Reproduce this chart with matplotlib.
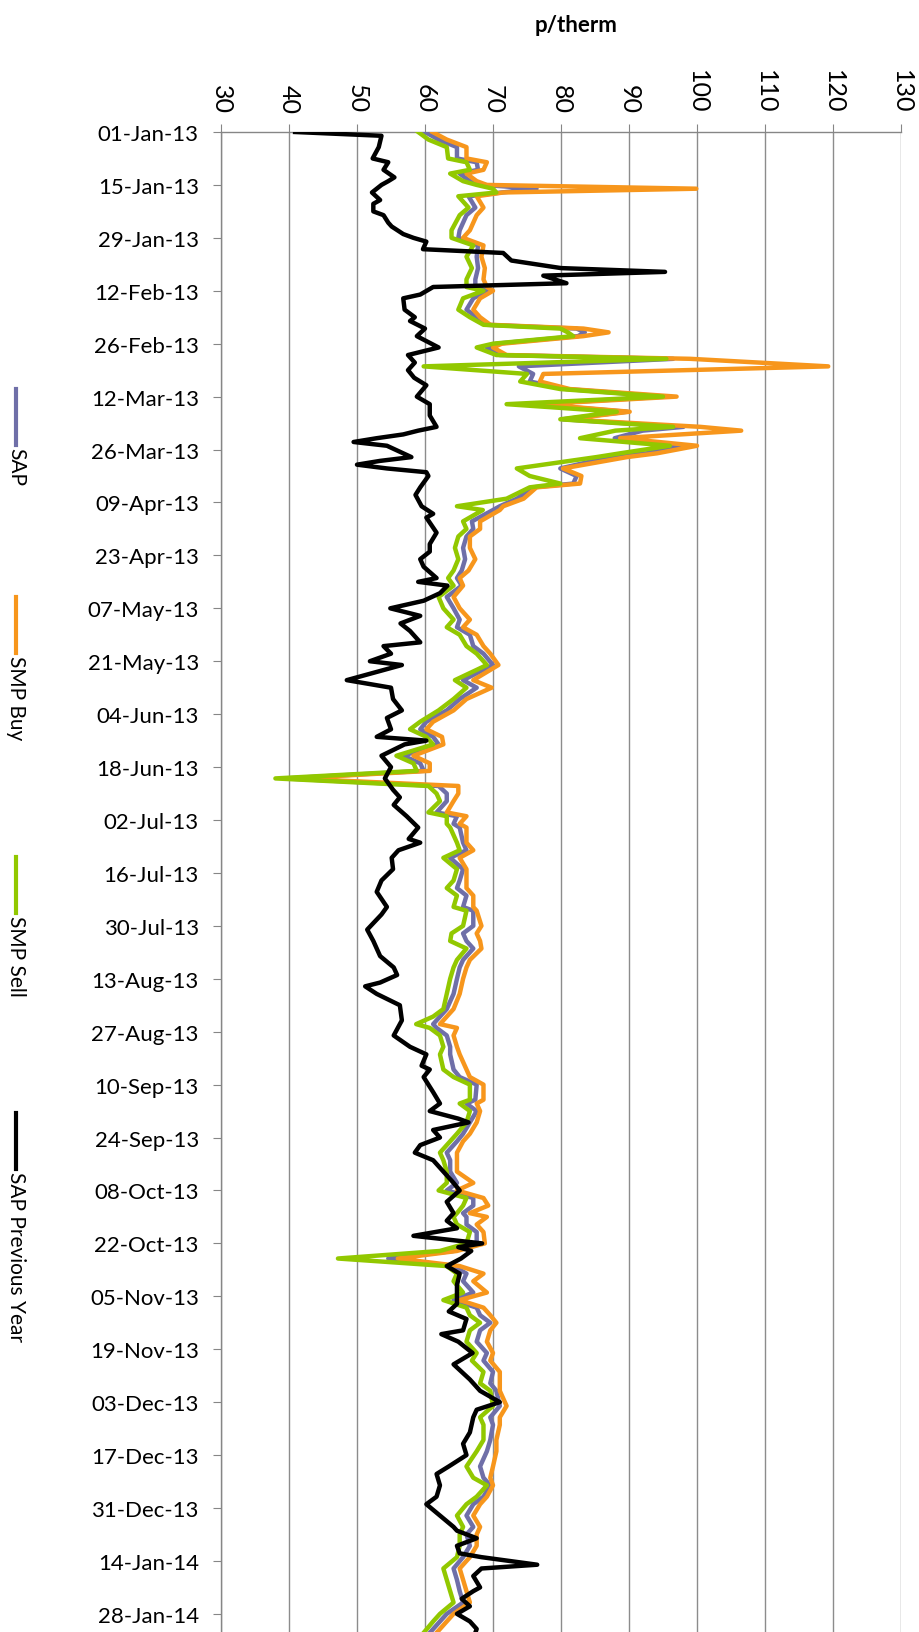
import numpy as np
import matplotlib
matplotlib.use('Agg')
import matplotlib.pyplot as plt
import matplotlib.dates as mdates
from matplotlib.lines import Line2D

plt.rcParams['font.family'] = ['Lato', 'DejaVu Sans']

# days after 01-Jan-13, prices in p/therm
cur_days = [0, 2, 4, 7, 8, 10, 11, 13, 14, 15,
            16, 17, 20, 22, 26, 28, 30, 33, 36, 39,
            41, 42, 44, 47, 49, 51, 52, 53, 54, 56,
            57, 59, 60, 62, 64, 66, 68, 70, 72, 74,
            76, 78, 79, 81, 83, 85, 86, 89, 91, 93,
            94, 97, 99, 100, 103, 105, 107, 110, 113, 116,
            118, 120, 123, 126, 129, 131, 133, 136, 138, 141,
            145, 147, 150, 153, 156, 158, 160, 162, 165, 167,
            169, 171, 173, 175, 177, 180, 181, 183, 184, 188,
            190, 192, 195, 198, 200, 202, 205, 206, 210, 212,
            214, 216, 219, 221, 224, 228, 232, 234, 236, 237,
            239, 242, 244, 248, 250, 252, 256, 257, 259, 262,
            265, 267, 270, 272, 275, 278, 280, 282, 284, 286,
            287, 289, 291, 294, 296, 298, 300, 302, 304, 307,
            309, 311, 313, 315, 317, 320, 323, 325, 328, 331,
            333, 337, 340, 342, 346, 349, 353, 356, 358, 361,
            363, 366, 369, 371, 374, 377, 380, 383, 386, 389,
            392, 394, 397, 399]

smp_sell = [59.0, 60.5, 63.2, 63.4, 66.1, 66.6, 63.7, 65.6, 67.6, 70.0,
            70.5, 64.9, 66.4, 65.1, 63.9, 63.9, 67.1, 66.1, 66.9, 66.1,
            66.1, 68.6, 65.6, 64.9, 66.6, 68.6, 79.9, 81.0, 81.8, 70.0,
            67.6, 70.5, 95.5, 59.8, 75.0, 74.0, 79.9, 95.0, 72.0, 88.2,
            79.9, 96.5, 88.0, 82.8, 96.0, 88.7, 85.2, 73.5, 75.4, 79.9,
            75.4, 72.0, 64.7, 68.5, 65.6, 66.1, 64.9, 64.4, 64.9, 64.2,
            63.4, 64.2, 62.0, 62.7, 64.2, 63.2, 65.1, 66.1, 67.6, 69.1,
            64.4, 66.1, 64.2, 62.0, 59.3, 57.8, 60.2, 61.2, 55.8, 58.3,
            58.8, 38.0, 60.5, 61.7, 62.2, 60.5, 63.2, 63.2, 63.7, 64.7,
            65.1, 62.7, 64.7, 64.2, 63.2, 64.7, 64.2, 66.1, 65.6, 63.9,
            63.7, 66.1, 64.7, 64.2, 63.7, 63.2, 62.7, 61.2, 58.7, 60.7,
            62.2, 62.7, 62.2, 62.7, 64.2, 66.6, 66.6, 65.1, 66.6, 66.1,
            64.7, 63.7, 62.2, 62.7, 63.2, 63.2, 62.0, 66.1, 65.6, 64.7,
            64.2, 64.7, 66.6, 66.1, 62.2, 47.2, 63.2, 64.7, 64.2, 65.6,
            62.7, 66.1, 66.6, 68.1, 66.6, 66.1, 67.6, 66.9, 68.6, 68.1,
            69.6, 70.0, 68.1, 68.6, 68.6, 67.6, 66.1, 67.1, 69.1, 67.6,
            66.1, 64.7, 65.6, 65.1, 65.1, 64.7, 62.7, 63.2, 63.7, 64.2,
            62.2, 61.2, 59.8, 59.0]

sap = [60.0, 62.0, 64.7, 64.7, 67.6, 67.8, 65.1, 66.6, 68.6, 76.4,
       71.3, 66.4, 67.4, 66.1, 65.1, 64.9, 67.8, 67.6, 67.8, 67.4,
       67.4, 69.1, 67.1, 66.1, 67.6, 69.1, 82.3, 83.5, 82.5, 70.5,
       69.1, 71.0, 96.5, 73.8, 75.9, 75.4, 80.8, 95.5, 75.9, 89.7,
       80.3, 98.0, 92.0, 87.9, 97.5, 92.6, 87.2, 79.9, 82.3, 81.8,
       75.9, 73.5, 71.0, 70.0, 66.9, 67.1, 66.1, 65.6, 65.9, 65.4,
       64.7, 65.4, 63.2, 64.2, 65.1, 64.7, 66.6, 67.1, 68.6, 70.0,
       65.6, 67.6, 65.1, 63.2, 60.2, 59.3, 61.2, 62.0, 56.8, 59.3,
       59.8, 39.5, 62.0, 63.2, 63.2, 61.7, 64.7, 64.2, 65.1, 65.6,
       66.1, 63.7, 65.6, 65.1, 64.7, 66.1, 65.6, 67.1, 67.1, 65.6,
       66.1, 67.1, 65.6, 65.1, 64.7, 64.2, 63.2, 62.2, 61.2, 61.7,
       63.2, 63.7, 63.7, 64.2, 65.1, 67.6, 67.4, 66.1, 67.6, 66.6,
       65.6, 64.7, 63.2, 63.7, 63.7, 64.7, 63.2, 67.1, 67.1, 65.6,
       66.1, 66.1, 67.6, 67.6, 64.2, 54.6, 64.2, 66.1, 65.6, 67.1,
       64.2, 67.6, 68.1, 69.6, 68.1, 67.6, 69.1, 68.6, 70.0, 69.6,
       70.5, 71.0, 69.6, 70.0, 69.6, 69.1, 68.1, 68.6, 69.6, 68.6,
       67.1, 66.1, 67.1, 66.1, 66.6, 65.6, 64.2, 64.7, 65.1, 65.6,
       63.2, 62.2, 60.7, 60.0]

smp_buy = [61.1, 63.2, 66.1, 66.1, 69.1, 68.6, 66.1, 67.6, 69.1, 99.9,
           71.5, 67.6, 68.6, 67.6, 66.6, 65.6, 68.6, 68.3, 68.8, 68.6,
           69.1, 70.0, 68.1, 67.1, 68.1, 69.6, 83.3, 87.0, 83.3, 71.3,
           70.0, 72.0, 99.0, 119.3, 77.4, 76.9, 81.3, 97.0, 76.9, 90.1,
           80.8, 100.5, 106.5, 88.7, 100.0, 94.1, 89.7, 80.3, 83.0, 82.8,
           76.4, 74.5, 71.5, 71.0, 68.1, 68.1, 66.6, 66.6, 67.4, 66.4,
           65.1, 65.6, 64.2, 65.1, 66.6, 65.6, 67.6, 68.6, 69.6, 70.8,
           67.1, 69.8, 66.1, 64.2, 61.2, 60.2, 62.5, 62.7, 58.3, 60.7,
           60.7, 40.5, 64.9, 64.9, 64.2, 63.2, 66.1, 65.1, 66.1, 66.1,
           67.1, 65.1, 66.1, 66.1, 66.1, 67.1, 67.1, 67.6, 68.3, 67.6,
           68.1, 68.3, 66.6, 66.1, 65.6, 65.1, 64.2, 63.2, 62.2, 64.7,
           64.2, 64.7, 65.1, 66.1, 66.6, 68.6, 68.6, 67.6, 68.1, 67.6,
           66.6, 65.6, 64.7, 64.7, 64.7, 67.1, 64.7, 68.6, 69.3, 66.6,
           69.1, 67.6, 68.6, 68.8, 64.7, 56.0, 65.1, 68.6, 67.1, 69.1,
           65.1, 68.6, 69.6, 70.5, 69.6, 69.1, 70.0, 69.6, 71.0, 71.0,
           71.0, 72.0, 71.0, 71.0, 70.5, 70.5, 70.0, 69.6, 70.0, 69.1,
           68.1, 67.1, 68.1, 67.6, 67.6, 66.6, 65.1, 65.6, 66.1, 66.6,
           64.2, 63.2, 61.7, 61.0]

prev_days = [0, 1, 4, 7, 8, 10, 12, 13, 14, 16,
             18, 19, 21, 22, 24, 25, 27, 28, 29, 31,
             32, 34, 36, 37, 38, 40, 41, 43, 44, 47,
             49, 50, 52, 54, 57, 59, 61, 63, 65, 67,
             70, 72, 75, 78, 79, 80, 81, 82, 83, 86,
             87, 88, 89, 90, 91, 94, 96, 99, 101, 102,
             106, 109, 111, 113, 115, 118, 119, 120, 122, 124,
             126, 128, 130, 132, 135, 136, 138, 140, 141, 145,
             147, 150, 153, 155, 158, 160, 161, 162, 165, 168,
             171, 174, 176, 178, 181, 184, 187, 188, 190, 192,
             195, 198, 201, 205, 207, 211, 214, 218, 221, 223,
             225, 226, 228, 231, 235, 239, 242, 244, 247, 248,
             250, 254, 257, 259, 261, 262, 264, 266, 268, 270,
             272, 275, 278, 280, 283, 286, 288, 290, 292, 294,
             295, 296, 298, 300, 302, 305, 308, 310, 312, 314,
             317, 318, 320, 323, 326, 330, 333, 336, 338, 340,
             344, 347, 350, 353, 355, 358, 361, 363, 366, 369,
             370, 372, 374, 376, 377, 379, 380, 382, 385, 386,
             388, 390, 392, 394, 396, 399]

sap_prev_year = [40.9, 53.6, 53.2, 52.3, 54.6, 53.9, 55.5, 54.6, 53.6, 52.2,
                 53.4, 52.4, 52.4, 53.9, 54.6, 55.1, 56.8, 58.3, 60.2, 59.7,
                 71.5, 72.7, 80.0, 95.3, 77.4, 80.8, 61.2, 59.3, 56.8, 57.0,
                 58.5, 57.8, 60.0, 58.8, 62.0, 57.5, 58.5, 57.5, 58.4, 60.2,
                 58.8, 60.7, 60.7, 61.7, 59.0, 56.8, 52.9, 49.5, 54.4, 58.0,
                 53.4, 50.0, 54.4, 60.2, 60.5, 59.3, 58.6, 59.5, 61.2, 60.2,
                 61.7, 60.7, 60.7, 59.3, 59.8, 61.7, 59.0, 63.3, 62.2, 59.8,
                 54.9, 59.3, 56.4, 57.8, 59.3, 53.9, 55.0, 51.9, 56.6, 48.5,
                 55.0, 55.3, 56.6, 54.4, 55.0, 52.9, 60.2, 57.0, 53.6, 55.0,
                 54.1, 55.3, 56.3, 55.4, 57.3, 59.0, 57.6, 59.3, 56.1, 55.1,
                 55.3, 53.6, 52.9, 54.4, 53.6, 51.5, 52.4, 53.4, 55.4, 55.9,
                 53.4, 51.2, 52.9, 56.3, 56.6, 55.4, 57.8, 60.2, 59.5, 60.7,
                 59.8, 61.2, 62.2, 60.7, 64.9, 66.4, 61.2, 62.2, 59.3, 58.5,
                 61.2, 62.7, 64.2, 65.1, 63.2, 64.2, 63.2, 64.7, 58.3, 68.4,
                 64.9, 66.8, 65.3, 63.2, 65.1, 64.7, 64.7, 64.7, 63.5, 66.1,
                 65.6, 62.4, 64.9, 67.0, 64.2, 66.6, 68.1, 71.0, 67.6, 67.1,
                 66.6, 65.6, 66.1, 63.5, 61.7, 62.2, 61.7, 60.2, 62.2, 64.2,
                 64.7, 67.6, 64.7, 65.1, 68.3, 76.5, 68.3, 67.1, 68.1, 67.1,
                 65.4, 66.6, 64.7, 66.6, 67.6, 67.0]

series_names = ['SAP', 'SMP Buy', 'SMP Sell', 'SAP Previous Year']
series_colors = ['#6f6fa8', '#f7961c', '#92c800', '#000000']

start = np.datetime64('2013-01-01')
cur_dates = mdates.date2num(start + np.array(cur_days, dtype='timedelta64[D]'))
prev_dates = mdates.date2num(start + np.array(prev_days, dtype='timedelta64[D]'))
tick_dates = mdates.date2num(start + np.arange(0, 400, 14).astype('timedelta64[D]'))

W, H = 920, 1633
fig = plt.figure(figsize=(W / 100, H / 100), dpi=100)
ax = fig.add_axes([221 / W, 0, 680 / W, 1 - 133 / H])

lw = 3.2
for vals, c in zip([sap, smp_buy, smp_sell], series_colors[:3]):
    ax.plot(vals, cur_dates, color=c, lw=lw, solid_joinstyle='round', zorder=3)
ax.plot(sap_prev_year, prev_dates, color=series_colors[3], lw=lw,
        solid_joinstyle='round', zorder=4)

ax.set_xlim(30, 130)
ax.set_xticks(np.arange(30, 131, 10))
ax.set_ylim(mdates.date2num(start) + 396.8, mdates.date2num(start))
ax.set_yticks(tick_dates)
ax.yaxis.set_major_formatter(mdates.DateFormatter('%d-%b-%y'))

gray = '#868686'
ax.xaxis.tick_top()
ax.xaxis.grid(True, color='#8c8c8c', lw=1.0, zorder=0)
ax.set_axisbelow(True)
for side in ['right', 'bottom']:
    ax.spines[side].set_visible(False)
for side in ['left', 'top']:
    ax.spines[side].set_color(gray)
    ax.spines[side].set_linewidth(1.0)
ax.tick_params(axis='x', length=6, color=gray, labelsize=18, pad=8,
               labelrotation=-90)
ax.tick_params(axis='y', length=6, color=gray, labelsize=16, pad=10)

fig.text(576 / W, 1 - 26 / H, 'p/therm', ha='center', va='center',
         fontsize=16, fontweight='bold')

# legend down the left edge
leg_top = [390, 598, 858, 1114]
for name, c, y0 in zip(series_names, series_colors, leg_top):
    fig.add_artist(Line2D([16 / W, 16 / W], [1 - y0 / H, 1 - (y0 + 56) / H],
                          transform=fig.transFigure, color=c, lw=3.0))
    fig.text(16 / W, 1 - (y0 + 58) / H, name, rotation=-90, ha='center',
             va='top', fontsize=15)

fig.savefig('out.png', dpi=100)
